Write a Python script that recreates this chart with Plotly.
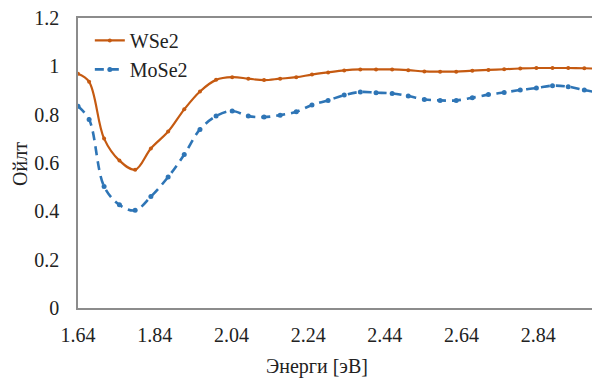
import plotly.graph_objects as go

energy = [1.640, 1.669, 1.708, 1.748, 1.789, 1.830, 1.875, 1.917, 1.958, 2.000,
          2.042, 2.084, 2.125, 2.167, 2.209, 2.250, 2.292, 2.334, 2.376, 2.417,
          2.459, 2.501, 2.543, 2.584, 2.626, 2.668, 2.710, 2.751, 2.793, 2.835,
          2.877, 2.918, 2.960, 3.000]
wse2 = [0.969, 0.936, 0.701, 0.610, 0.572, 0.660, 0.730, 0.822, 0.896, 0.944,
        0.955, 0.949, 0.943, 0.949, 0.955, 0.966, 0.975, 0.983, 0.987, 0.987,
        0.987, 0.984, 0.979, 0.978, 0.978, 0.982, 0.985, 0.988, 0.991, 0.993,
        0.993, 0.993, 0.992, 0.990]
mose2 = [0.835, 0.780, 0.503, 0.427, 0.404, 0.461, 0.542, 0.635, 0.739, 0.794,
         0.815, 0.794, 0.790, 0.798, 0.812, 0.840, 0.859, 0.881, 0.894, 0.891,
         0.888, 0.877, 0.863, 0.859, 0.859, 0.870, 0.883, 0.892, 0.902, 0.910,
         0.920, 0.916, 0.902, 0.890]
x_ticks = [1.64, 1.84, 2.04, 2.24, 2.44, 2.64, 2.84]
y_ticks = [0, 0.2, 0.4, 0.6, 0.8, 1, 1.2]

FONT = "Times New Roman"
ORANGE = "#C55A11"
BLUE = "#2E75B6"
TXT = "#222222"
FS = 20

fig = go.Figure()
fig.add_trace(go.Scatter(
    x=energy, y=wse2, name="WSe2", mode="lines+markers",
    line=dict(color=ORANGE, width=2.2, shape="spline", smoothing=1.0),
    marker=dict(color=ORANGE, size=4, symbol="circle"),
))
fig.add_trace(go.Scatter(
    x=energy, y=mose2, name="MoSe2", mode="lines+markers",
    line=dict(color=BLUE, width=2.6, shape="spline", smoothing=1.0, dash="9px,6px"),
    marker=dict(color=BLUE, size=5, symbol="circle"),
))

fig.update_layout(
    template="none",
    width=592, height=378,
    margin=dict(l=78, r=0, t=18, b=70),
    paper_bgcolor="white", plot_bgcolor="white",
    font=dict(family=FONT, size=FS, color=TXT),
    showlegend=True,
    legend=dict(x=0.023, y=0.99, xanchor="left", yanchor="top",
                bgcolor="rgba(0,0,0,0)", font=dict(family=FONT, size=FS, color=TXT),
                tracegroupgap=0, itemwidth=30),
    xaxis=dict(range=[1.64, 2.98], tickvals=x_ticks,
               ticktext=[f"{v:.2f}" for v in x_ticks],
               showgrid=False, zeroline=False,
               showline=True, linecolor="#8c8c8c", linewidth=1.5, mirror=True,
               ticks="", ticklabelstandoff=8,
               tickfont=dict(family=FONT, size=FS, color=TXT)),
    yaxis=dict(range=[0, 1.2], tickvals=y_ticks,
               ticktext=[f"{v:g}" for v in y_ticks],
               showgrid=False, zeroline=False,
               showline=True, linecolor="#8c8c8c", linewidth=1.5,
               ticks="", ticklabelstandoff=13,
               tickfont=dict(family=FONT, size=FS, color=TXT)),
)
fig.add_annotation(text="Энерги [эВ]", xref="paper", yref="paper",
                   x=(317 - 78) / 514, y=-(366 - 308) / 290,
                   showarrow=False, xanchor="center", yanchor="middle",
                   font=dict(family=FONT, size=FS, color=TXT))
fig.add_annotation(text="Ойлт", xref="paper", yref="paper",
                   x=-(78 - 20) / 514, y=(308 - 164) / 290,
                   showarrow=False, xanchor="center", yanchor="middle", textangle=-90,
                   font=dict(family=FONT, size=FS, color=TXT))

fig.write_html("out.html")
